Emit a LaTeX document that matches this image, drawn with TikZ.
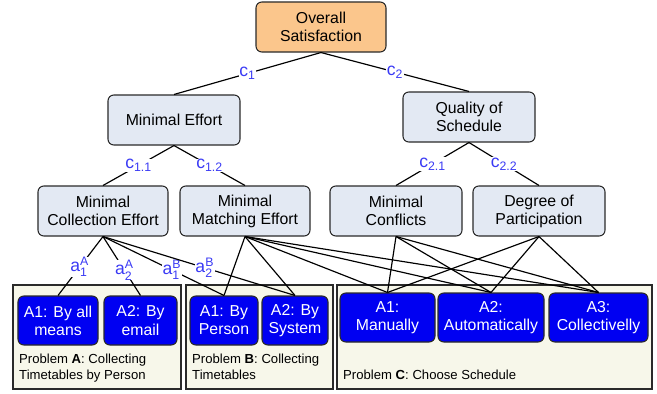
\documentclass[tikz,border=0pt]{standalone}
\usepackage{amsmath}
\usepackage{fontspec}
\setmainfont{Liberation Sans}
\definecolor{critfill}{HTML}{E3E9F3}
\definecolor{topfill}{HTML}{FBC68C}
\definecolor{altfill}{HTML}{0000F2}
\definecolor{probfill}{HTML}{F7F7EA}
\definecolor{labblue}{HTML}{3A3AF5}
\definecolor{edgegray}{HTML}{2A2A2A}
\tikzset{
  crit/.style={draw=edgegray, line width=0.9pt, rounded corners=5pt, fill=critfill,
    align=center, inner sep=0pt, minimum height=1.5cm,
    font=\fontsize{13.5}{15.5}\selectfont},
  topcrit/.style={crit, fill=topfill},
  alt/.style={draw=edgegray, line width=0.9pt, rounded corners=5pt, fill=altfill,
    text=white, align=center, inner sep=0pt, minimum height=1.47cm,
    font=\fontsize{13.5}{15.5}\selectfont},
  probbox/.style={draw=edgegray, line width=1.2pt, fill=probfill},
  probtext/.style={inner sep=0pt, align=left, font=\fontsize{11.2}{13.7}\selectfont},
  link/.style={draw=black, line width=1pt},
  wlab/.style={fill=white, inner sep=0.4pt, text=labblue,
    font=\fontsize{15}{15}\selectfont},
}
\begin{document}
\begin{tikzpicture}[x=0.03cm, y=-0.03cm]
\useasboundingbox (0,0) rectangle (657,393);

% problem frames
\draw[probbox] (13,285) rectangle (181,389);
\draw[probbox] (186,285) rectangle (333,389);
\draw[probbox] (337,285) rectangle (652,389);

% criteria tree
\node[topcrit, minimum width=3.9cm] (OS) at (321,27) {Overall\\Satisfaction};
\node[crit, minimum width=3.96cm] (ME) at (174,120) {Minimal Effort};
\node[crit, minimum width=3.96cm] (QS) at (469,117) {Quality of\\Schedule};
\node[crit, minimum width=3.9cm] (MCE) at (103,211) {Minimal\\Collection Effort};
\node[crit, minimum width=3.9cm] (MME) at (245,211) {Minimal\\Matching Effort};
\node[crit, minimum width=3.96cm] (MC) at (396,211) {Minimal\\Conflicts};
\node[crit, minimum width=3.96cm] (DP) at (539,211) {Degree of\\Participation};

% alternatives of problem A
\node[alt, minimum width=2.4cm] (PA1) at (58,320.5) {A1: By all\\means};
\node[alt, minimum width=2.19cm] (PA2) at (140.5,320.5) {A2: By\\email};
% alternatives of problem B
\node[alt, minimum width=2.04cm] (PB1) at (224,320.5) {A1: By\\Person};
\node[alt, minimum width=1.98cm] (PB2) at (295,320.5) {A2: By\\System};
% alternatives of problem C
\node[alt, minimum width=2.85cm] (PC1) at (387.5,317.5) {A1:\\Manually};
\node[alt, minimum width=3.18cm] (PC2) at (491,317.5) {A2:\\Automatically};
\node[alt, minimum width=2.97cm] (PC3) at (598.5,317.5) {A3:\\Collectivelly};

% problem captions
\node[probtext, anchor=north west] (capA) at (19,353.5) {Problem \textbf{A}: Collecting\\Timetables by Person};
\node[probtext, anchor=north west] (capB) at (192,353.5) {Problem \textbf{B}: Collecting\\Timetables};
\node[probtext, anchor=base west] (capC) at (343,379) {Problem \textbf{C}: Choose Schedule};

% links from criteria to alternatives
\foreach \t in {PB1,PB2,PC1,PC2,PC3} \draw[link] (MME.south) -- (\t.north);
\foreach \t in {PC1,PC2,PC3} {
  \draw[link] (MC.south) -- (\t.north);
  \draw[link] (DP.south) -- (\t.north);
}
\draw[link] (MCE.south) -- node[wlab, pos=0.52] (a1A) {a$^{\text{A}}_{\text{1}}$} (PA1.north);
\draw[link] (MCE.south) -- node[wlab, pos=0.57] (a2A) {a$^{\text{A}}_{\text{2}}$} (PA2.north);
\draw[link] (MCE.south) -- node[wlab, pos=0.57] (a1B) {a$^{\text{B}}_{\text{1}}$} (PB1.north);
\draw[link] (MCE.south) -- node[wlab, pos=0.53] (a2B) {a$^{\text{B}}_{\text{2}}$} (PB2.north);

% weighted links inside the criteria tree
\draw[link] (OS.south) -- node[wlab] (c1) {c$_{\text{1}}$} (ME.north);
\draw[link] (OS.south) -- node[wlab] (c2) {c$_{\text{2}}$} (QS.north);
\draw[link] (ME.south) -- node[wlab] (c11) {c$_{\text{1.1}}$} (MCE.north);
\draw[link] (ME.south) -- node[wlab] (c12) {c$_{\text{1.2}}$} (MME.north);
\draw[link] (QS.south) -- node[wlab] (c21) {c$_{\text{2.1}}$} (MC.north);
\draw[link] (QS.south) -- node[wlab] (c22) {c$_{\text{2.2}}$} (DP.north);
\end{tikzpicture}
\end{document}
